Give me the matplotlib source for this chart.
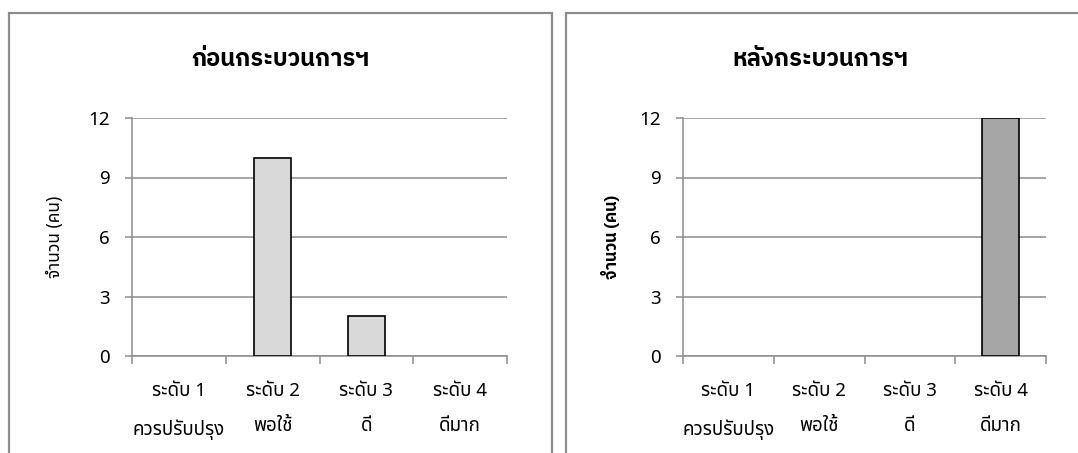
import matplotlib
matplotlib.use("Agg")
import matplotlib.pyplot as plt
from matplotlib.patches import Rectangle
import numpy as np

plt.rcParams['font.family'] = ['Noto Sans Thai', 'Noto Sans', 'DejaVu Sans']
bold_family = ['IBM Plex Sans Thai', 'Noto Sans', 'DejaVu Sans']

levels = ["ระดับ 1\nควรปรับปรุง", "ระดับ 2\nพอใช้", "ระดับ 3\nดี", "ระดับ 4\nดีมาก"]
before = [0, 10, 2, 0]
after = [0, 0, 0, 12]
titles = ["ก่อนกระบวนการฯ", "หลังกระบวนการฯ"]
ylabel = "จำนวน (คน)"

grey = "#8c8c8c"
W, H = 1078, 453

fig = plt.figure(figsize=(W / 100, H / 100), dpi=100)

# panel frames (bottoms run off the page)
for x0, x1 in [(9, 552), (566, 1090)]:
    fig.patches.append(Rectangle((x0 / W, -0.05), (x1 - x0) / W, (H - 13) / H + 0.05,
                                 transform=fig.transFigure, fill=False,
                                 edgecolor=grey, lw=1.6))


def draw(ax, vals, colour, title, ybold, title_x, ylab_x):
    x = np.arange(len(vals))
    # empty categories get no outline
    ax.bar(x, vals, width=0.4, color=colour, edgecolor="black",
           lw=[1.2 if v else 0 for v in vals], zorder=3)
    ax.set_xlim(-0.5, len(vals) - 0.5)
    ax.set_ylim(0, 12)
    ax.set_yticks([0, 3, 6, 9, 12])
    ax.yaxis.grid(True, color=grey, lw=1.1)
    ax.set_axisbelow(True)
    for s in ["top", "right"]:
        ax.spines[s].set_visible(False)
    for s in ["left", "bottom"]:
        ax.spines[s].set_color(grey)
        ax.spines[s].set_linewidth(1.1)
    ax.tick_params(axis="y", length=5, width=1.1, color=grey, labelsize=13.5, pad=11)
    ax.set_xticks(x)
    ax.set_xticklabels(levels, fontsize=13.5, linespacing=2.2)
    ax.tick_params(axis="x", which="major", length=0, pad=19)
    ax.set_xticks(np.arange(len(vals) + 1) - 0.5, minor=True)
    ax.tick_params(axis="x", which="minor", length=6, width=1.1, color=grey)
    fig.text(title_x / W, 1 - 60 / H, title, ha="center", va="center",
             fontsize=17, fontweight="bold", family=bold_family)
    if ybold:
        fig.text(ylab_x / W, 1 - 237 / H, ylabel, ha="center", va="center", rotation=90,
                 fontsize=12, fontweight="bold", family=bold_family)
    else:
        fig.text(ylab_x / W, 1 - 237 / H, ylabel, ha="center", va="center", rotation=90,
                 fontsize=12.5)


ax1 = fig.add_axes([132 / W, 1 - 356 / H, 375 / W, 238 / H])
draw(ax1, before, "#d9d9d9", titles[0], False, 280, 55)

ax2 = fig.add_axes([683 / W, 1 - 356 / H, 363 / W, 238 / H])
draw(ax2, after, "#a6a6a6", titles[1], True, 820, 610)

fig.savefig("out.png", dpi=100)
